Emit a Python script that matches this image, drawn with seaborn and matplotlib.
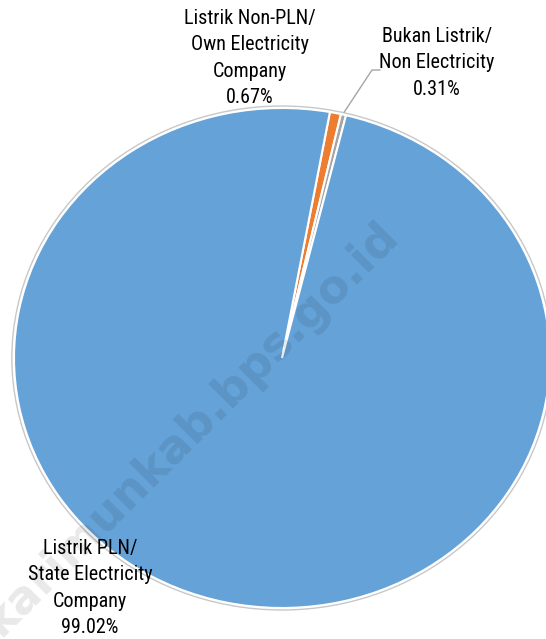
import numpy as np
import matplotlib
matplotlib.use("Agg")
import matplotlib.pyplot as plt
from matplotlib.patches import Circle
from matplotlib import font_manager
import seaborn as sns

# data
labels = ["Listrik Non-PLN/\nOwn Electricity\nCompany",
          "Bukan Listrik/\nNon Electricity",
          "Listrik PLN/\nState Electricity\nCompany"]
values = [0.67, 0.31, 99.02]
colors = ["#ED7D31", "#A5A5A5", "#64A2D8"]

sns.set_theme(style="white")
fonts = font_manager.fontManager.ttflist
names = {f.name for f in fonts}
stretch = "normal"
if "Liberation Sans Narrow" in names:
    main_font = "Liberation Sans Narrow"
elif "Roboto Condensed" in names:
    main_font = "Roboto Condensed"
else:
    main_font = "DejaVu Sans"
    if any(f.name == "DejaVu Sans" and f.stretch == "condensed" for f in fonts):
        stretch = "condensed"
plt.rcParams["font.family"] = [main_font, "DejaVu Sans"]

W, H = 546, 639
fig = plt.figure(figsize=(W / 100, H / 100), dpi=100)
ax = fig.add_axes([0, 0, 1, 1])

# pie centre and radii in pixels (slightly stretched horizontally)
cx, cy, rx, ry = 282, 358, 268, 250
xmin, xmax = -cx / rx, (W - cx) / rx
ymax, ymin = cy / ry, -(H - cy) / ry


def px(x, y):
    return xmin + x / W * (xmax - xmin), ymax - y / H * (ymax - ymin)


start = 90 - 10.3
wedges, _ = ax.pie(values, colors=colors, startangle=start, counterclock=False,
                   wedgeprops=dict(edgecolor="white", linewidth=1.5))
ax.add_patch(Circle((0, 0), 1.008, fill=False, edgecolor="#c8c8c8", linewidth=1.0))
ax.set_aspect("auto")
ax.set_xlim(xmin, xmax)
ax.set_ylim(ymin, ymax)
ax.axis("off")

# watermark (under the labels)
ax.text(*px(400, 238), "karimunkab.bps.go.id", fontsize=33, fontweight="bold",
        family="DejaVu Sans", rotation=45, rotation_mode="anchor",
        ha="right", va="baseline", color="black", alpha=0.09, zorder=3)

txt = dict(fontsize=14.5, ha="center", va="center", linespacing=1.5,
           color="black", fontstretch=stretch, zorder=5)

# labels
ax.text(*px(250, 58), f"{labels[0]}\n{values[0]:.2f}%", **txt)
ax.text(*px(437, 63), f"{labels[1]}\n{values[1]:.2f}%", **txt)
ax.text(*px(90, 588), f"{labels[2]}\n{values[2]:.2f}%", **txt)

# leader line for the small grey slice
w = wedges[1]
mid = np.deg2rad((w.theta1 + w.theta2) / 2)
x0, y0 = np.cos(mid) * 1.01, np.sin(mid) * 1.01
x1, y1 = px(372, 70)
x2, y2 = px(380, 70)
ax.plot([x0, x1, x2], [y0, y1, y2], color="#a5a5a5", linewidth=1)

fig.savefig("out.png", dpi=100)
